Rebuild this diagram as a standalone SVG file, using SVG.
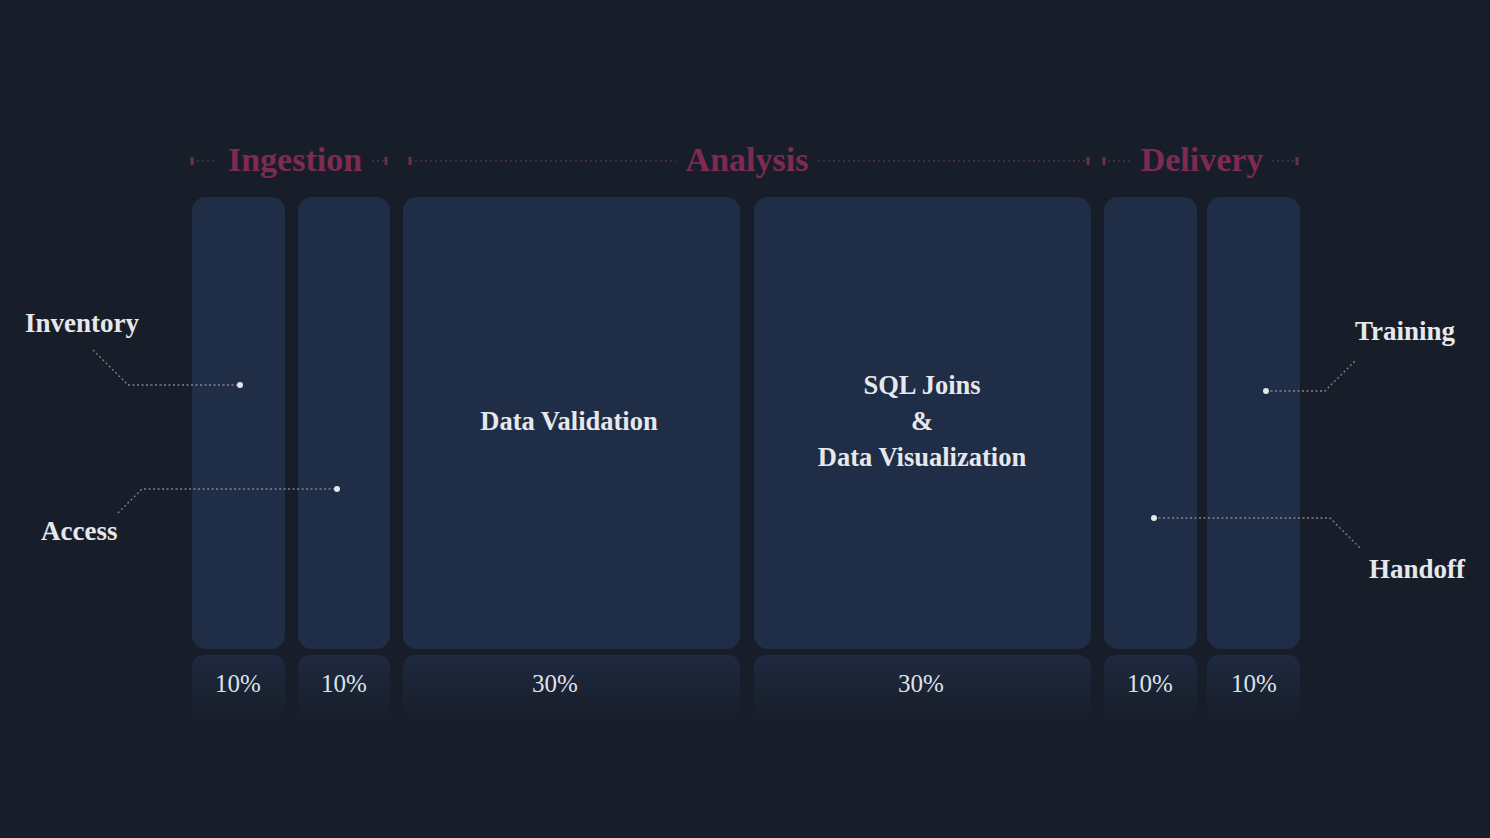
<svg xmlns="http://www.w3.org/2000/svg" width="1490" height="838" viewBox="0 0 1490 838">
<defs>
<linearGradient id="band" x1="0" y1="0" x2="0" y2="1">
<stop offset="0" stop-color="#1e2940"/>
<stop offset="1" stop-color="#181e29"/>
</linearGradient>
<style>
.box{fill:#1f2d47}
.band{fill:url(#band)}
.t{font-family:"Liberation Serif","DejaVu Serif",serif;fill:#e6e8ec;font-weight:bold}
.lbl{font-size:26.5px;text-anchor:middle}
.side{font-size:27px}
.pct{font-family:"Liberation Serif","DejaVu Serif",serif;fill:#dfe2e8;font-size:25px;text-anchor:middle}
.hdr{font-family:"Liberation Serif","DejaVu Serif",serif;font-weight:bold;font-size:34px;fill:#7e2a52;text-anchor:middle}
.hl{stroke:#4f3048;stroke-width:1.5;stroke-dasharray:2 3;fill:none}
.tick{stroke:#6e2d4e;stroke-width:3}
.lead{stroke:#8a7f92;stroke-width:1.3;stroke-dasharray:2 2.5;fill:none}
.dot{fill:#e4e6ea}
</style>
</defs>
<rect width="1490" height="838" fill="#181e29"/>

<g id="headers">
<path class="hl" d="M192 161H215M372 161H388M410 161H676M818 161H1088M1103 161H1130M1272 161H1298"/>
<path class="tick" d="M192 157V165M386 157V165M410 157V165M1088 157V165M1104 157V165M1297 157V165"/>
<text class="hdr" x="295" y="171">Ingestion</text>
<text class="hdr" x="747" y="171">Analysis</text>
<text class="hdr" x="1202" y="171">Delivery</text>
</g>

<g id="node-inventory-col"><rect class="box" x="192" y="197" width="93" height="452" rx="14"/><rect class="band" x="192" y="655" width="93" height="66" rx="12"/><text class="pct" x="238" y="692">10%</text></g>
<g id="node-access-col"><rect class="box" x="298" y="197" width="92" height="452" rx="14"/><rect class="band" x="298" y="655" width="92" height="66" rx="12"/><text class="pct" x="344" y="692">10%</text></g>
<g id="node-validation"><rect class="box" x="403" y="197" width="337" height="452" rx="14"/><rect class="band" x="403" y="655" width="337" height="66" rx="12"/><text class="t lbl" x="569" y="430">Data Validation</text><text class="pct" x="555" y="692">30%</text></g>
<g id="node-sql"><rect class="box" x="754" y="197" width="337" height="452" rx="14"/><rect class="band" x="754" y="655" width="337" height="66" rx="12"/><text class="t lbl" x="922" y="394">SQL Joins</text><text class="t lbl" x="922" y="430">&amp;</text><text class="t lbl" x="922" y="466">Data Visualization</text><text class="pct" x="921" y="692">30%</text></g>
<g id="node-handoff-col"><rect class="box" x="1104" y="197" width="93" height="452" rx="14"/><rect class="band" x="1104" y="655" width="93" height="66" rx="12"/><text class="pct" x="1150" y="692">10%</text></g>
<g id="node-training-col"><rect class="box" x="1207" y="197" width="93" height="452" rx="14"/><rect class="band" x="1207" y="655" width="93" height="66" rx="12"/><text class="pct" x="1254" y="692">10%</text></g>

<g id="connectors">
<path class="lead" d="M93 350L128 385H240"/>
<path class="lead" d="M118 513L142 489H337"/>
<path class="lead" d="M1266 391H1325L1356 360"/>
<path class="lead" d="M1154 518H1330L1360 548"/>
<circle class="dot" cx="240" cy="385" r="3"/>
<circle class="dot" cx="337" cy="489" r="3"/>
<circle class="dot" cx="1266" cy="391" r="3"/>
<circle class="dot" cx="1154" cy="518" r="3"/>
</g>

<g id="labels">
<text class="t side" x="25" y="332">Inventory</text>
<text class="t side" x="41" y="540">Access</text>
<text class="t side" x="1355" y="340">Training</text>
<text class="t side" x="1369" y="578">Handoff</text>
</g>
</svg>
